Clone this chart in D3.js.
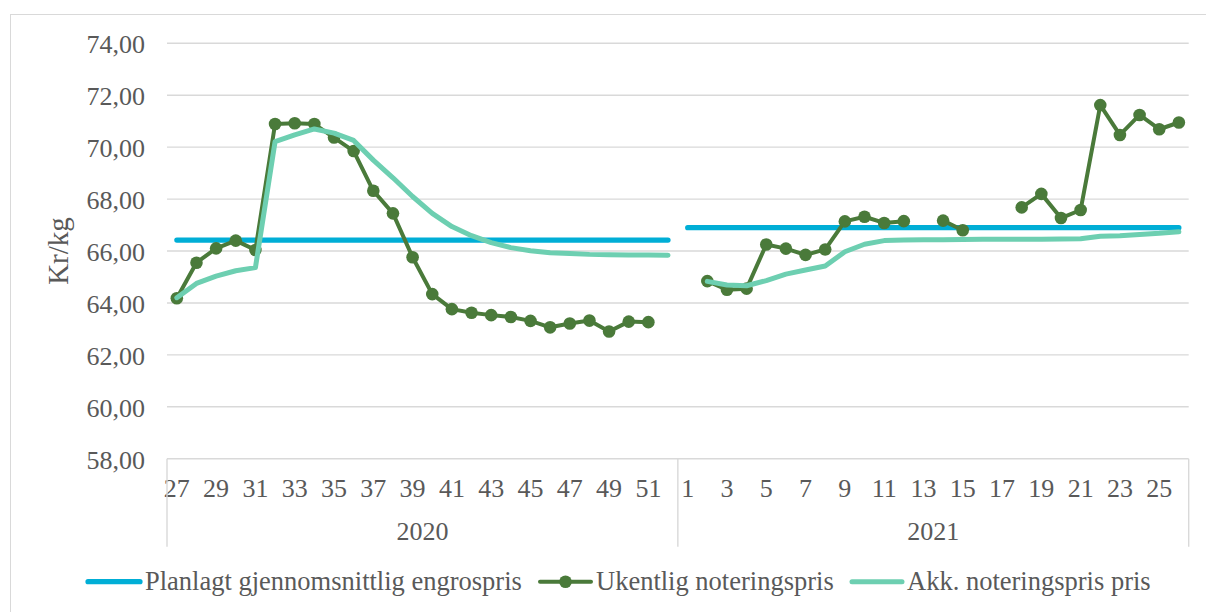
<!DOCTYPE html>
<html>
<head>
<meta charset="utf-8">
<script src="https://cdn.jsdelivr.net/npm/d3@7"></script>
<style>
  html, body { margin: 0; padding: 0; background: #fff; }
  svg { display: block; }
  text { font-family: "Liberation Serif", "Times New Roman", serif; fill: #595959; }
</style>
</head>
<body>
<svg id="chart" width="1206" height="612"></svg>
<script>
// ---------- data ----------
const years = ["2020", "2021"];
const weeks2020 = ["27","28","29","30","31","32","33","34","35","36","37","38","39","40","41","42","43","44","45","46","47","48","49","50","51","52"];
const weeks2021 = ["1","2","3","4","5","6","7","8","9","10","11","12","13","14","15","16","17","18","19","20","21","22","23","24","25","26"];
const tickWeeks2020 = ["27","29","31","33","35","37","39","41","43","45","47","49","51"];
const tickWeeks2021 = ["1","3","5","7","9","11","13","15","17","19","21","23","25"];
const yTicks = [58, 60, 62, 64, 66, 68, 70, 72, 74];

const seriesNames = ["Planlagt gjennomsnittlig engrospris", "Ukentlig noteringspris", "Akk. noteringspris pris"];

const planned2020 = [66.42,66.42,66.42,66.42,66.42,66.42,66.42,66.42,66.42,66.42,66.42,66.42,66.42,66.42,66.42,66.42,66.42,66.42,66.42,66.42,66.42,66.42,66.42,66.42,66.42,66.42];
const planned2021 = [66.90,66.90,66.90,66.90,66.90,66.90,66.90,66.90,66.90,66.90,66.90,66.90,66.90,66.90,66.90,66.90,66.90,66.90,66.90,66.90,66.90,66.90,66.90,66.90,66.90,66.90];

const weekly2020 = [64.18,65.55,66.10,66.40,66.04,70.89,70.92,70.89,70.37,69.85,68.32,67.45,65.76,64.34,63.76,63.62,63.53,63.46,63.31,63.06,63.21,63.32,62.90,63.28,63.26,null];
const weekly2021 = [null,64.84,64.51,64.55,66.25,66.09,65.85,66.06,67.14,67.32,67.08,67.15,null,67.17,66.80,null,null,67.68,68.20,67.27,67.58,71.62,70.47,71.24,70.69,70.95];

const accum2020 = [64.20,64.75,65.03,65.24,65.36,70.21,70.47,70.70,70.54,70.26,69.50,68.82,68.10,67.45,66.94,66.59,66.32,66.13,66.01,65.93,65.90,65.87,65.86,65.85,65.85,65.84];
const accum2021 = [null,64.83,64.69,64.66,64.86,65.11,65.27,65.42,65.97,66.26,66.40,66.42,66.43,66.43,66.44,66.45,66.45,66.45,66.45,66.46,66.47,66.57,66.59,66.64,66.68,66.74];

// ---------- build category table ----------
const categories = [
  ...weeks2020.map(w => ({ key: "2020-" + w, year: "2020", week: w })),
  ...weeks2021.map(w => ({ key: "2021-" + w, year: "2021", week: w }))
];
const tickKeys = [...tickWeeks2020.map(w => "2020-" + w), ...tickWeeks2021.map(w => "2021-" + w)];

// ---------- layout ----------
const svg = d3.select("#chart");
const plot = { left: 167, right: 1188.7, top: 43.3, bottom: 458.7 };
const C = { blue: "#00AED6", green: "#4A7A3A", teal: "#6DCFB1", grid: "#D9D9D9", text: "#595959" };

// outer border
svg.append("rect").attr("x", 10.5).attr("y", 14.5).attr("width", 1205).attr("height", 610)
  .attr("fill", "none").attr("stroke", "#D9D9D9").attr("stroke-width", 1);

const x = d3.scaleBand().domain(categories.map(c => c.key)).range([plot.left, plot.right]).padding(0);
const y = d3.scaleLinear().domain([58, 74]).range([plot.bottom, plot.top]);
const cx = k => x(k) + x.bandwidth() / 2;

// gridlines
svg.append("g").selectAll("line").data(yTicks).join("line")
  .attr("x1", plot.left).attr("x2", plot.right)
  .attr("y1", d => y(d)).attr("y2", d => y(d))
  .attr("stroke", C.grid).attr("stroke-width", 1.4);

// y axis labels
const nb = d3.formatLocale({ decimal: ",", thousands: " ", grouping: [3], currency: ["", " kr"] });
const fmt = nb.format(".2f");
const yAxis = d3.axisLeft(y).tickValues(yTicks).tickSize(0).tickPadding(22).tickFormat(fmt);
const gy = svg.append("g").attr("transform", `translate(${plot.left},0)`).call(yAxis);
gy.select(".domain").remove();
gy.selectAll("text").attr("font-size", 26).attr("fill", C.text)
  .attr("font-family", '"Liberation Serif", serif').attr("dy", "0.36em");

// y title
svg.append("text").attr("transform", `translate(68,251) rotate(-90)`)
  .attr("text-anchor", "middle").attr("font-size", 29).text("Kr/kg");

// x axis: week labels
const xAxis = d3.axisBottom(x).tickValues(tickKeys).tickSize(0).tickPadding(0)
  .tickFormat(k => categories.find(c => c.key === k).week);
const gx = svg.append("g").attr("transform", `translate(0,${plot.bottom})`).call(xAxis);
gx.select(".domain").remove();
gx.selectAll("text").attr("font-size", 26).attr("fill", C.text)
  .attr("font-family", '"Liberation Serif", serif').attr("dy", null).attr("y", 38);

// x axis: year group separators and labels
const yearGroups = years.map(yr => {
  const keys = categories.filter(c => c.year === yr).map(c => c.key);
  return { year: yr, x0: x(keys[0]), x1: x(keys[keys.length - 1]) + x.bandwidth() };
});
const sepX = [yearGroups[0].x0, ...yearGroups.map(g => g.x1)];
svg.append("g").selectAll("line").data(sepX).join("line")
  .attr("x1", d => d).attr("x2", d => d)
  .attr("y1", plot.bottom).attr("y2", plot.bottom + 88)
  .attr("stroke", C.grid).attr("stroke-width", 1.4);
svg.append("g").selectAll("text").data(yearGroups).join("text")
  .attr("x", d => (d.x0 + d.x1) / 2).attr("y", plot.bottom + 81)
  .attr("text-anchor", "middle").attr("font-size", 26).text(d => d.year);

// ---------- series (one path per year group, as the category axis is split) ----------
const line = d3.line().defined(d => d.v != null).x(d => cx(d.k)).y(d => y(d.v));
const pts = (yr, wks, arr) => wks.map((w, i) => ({ k: yr + "-" + w, v: arr[i] }));

const seriesDefs = [
  { color: C.blue, width: 5.2, parts: [pts("2020", weeks2020, planned2020), pts("2021", weeks2021, planned2021)] },
  { color: C.green, width: 4, parts: [pts("2020", weeks2020, weekly2020), pts("2021", weeks2021, weekly2021)], marker: true },
  { color: C.teal, width: 5, parts: [pts("2020", weeks2020, accum2020), pts("2021", weeks2021, accum2021)] }
];
seriesDefs.forEach(s => {
  const g = svg.append("g");
  g.selectAll("path").data(s.parts).join("path").attr("d", line)
    .attr("fill", "none").attr("stroke", s.color).attr("stroke-width", s.width)
    .attr("stroke-linecap", "round").attr("stroke-linejoin", "round");
  if (s.marker) {
    g.selectAll("circle").data(s.parts.flat().filter(d => d.v != null)).join("circle")
      .attr("cx", d => cx(d.k)).attr("cy", d => y(d.v)).attr("r", 6.3).attr("fill", s.color);
  }
});

// ---------- legend ----------
const legendY = 581.7;
const legend = [
  { name: seriesNames[0], color: C.blue, x0: 86, x1: 142, marker: false, width: 5.2 },
  { name: seriesNames[1], color: C.green, x0: 538, x1: 593, marker: true, width: 4 },
  { name: seriesNames[2], color: C.teal, x0: 850, x1: 904, marker: false, width: 5 }
];
const lg = svg.append("g").selectAll("g").data(legend).join("g");
lg.append("line").attr("x1", d => d.x0 + 2).attr("x2", d => d.x1 - 2)
  .attr("y1", legendY).attr("y2", legendY)
  .attr("stroke", d => d.color).attr("stroke-width", d => d.width).attr("stroke-linecap", "round");
lg.filter(d => d.marker).append("circle").attr("cx", d => (d.x0 + d.x1) / 2).attr("cy", legendY)
  .attr("r", 6.3).attr("fill", d => d.color);
lg.append("text").attr("x", d => d.x1 + 3).attr("y", legendY + 8.5)
  .attr("font-size", 26.5).text(d => d.name);
</script>
</body>
</html>
